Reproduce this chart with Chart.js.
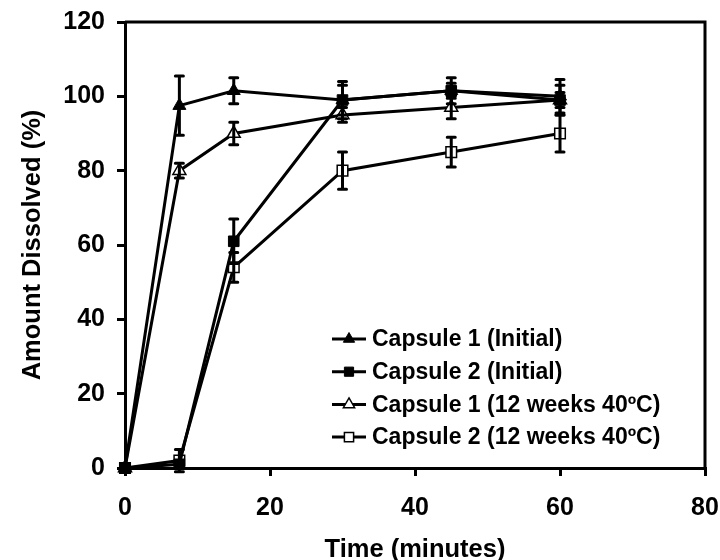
<!DOCTYPE html>
<html>
<head>
<meta charset="utf-8">
<script src="https://cdn.jsdelivr.net/npm/chart.js@4"></script>
<style>
  html, body { margin: 0; padding: 0; background: #fff; }
  #wrap { width: 720px; height: 560px; }
</style>
</head>
<body>
<div id="wrap"><canvas id="chart" width="720" height="560"></canvas></div>
<script>
// 数据
const timePoints = [0, 7.5, 15, 30, 45, 60];
const seriesLabels = ['Capsule 1 (Initial)', 'Capsule 2 (Initial)', 'Capsule 1 (12 weeks 40ºC)', 'Capsule 2 (12 weeks 40ºC)'];
const cap1Initial = [0, 97.5, 101.5, 99, 101.5, 100];
const cap1InitialErr = [0, 8, 3.5, 5, 3.5, 4.5];
const cap2Initial = [0, 1, 61, 99, 101.5, 99];
const cap2InitialErr = [0, 1, 6, 4, 2, 4];
const cap1Aged = [0, 80, 90, 95, 97, 99];
const cap1AgedErr = [0, 2, 3, 2, 3, 2];
const cap2Aged = [0, 2, 54, 80, 85, 90];
const cap2AgedErr = [0, 3, 4, 5, 4, 5];
const xTicks = [0, 20, 40, 60, 80];
const yTicks = [0, 20, 40, 60, 80, 100, 120];

const FONT = '"Liberation Sans", Arial, Helvetica, sans-serif';

function makeSet(label, values, errors, style, filled) {
    return {
        label: label,
        data: timePoints.map((t, i) => ({ x: t, y: values[i] })),
        errors: errors,
        borderColor: '#000',
        borderWidth: 3,
        tension: 0,
        fill: false,
        clip: false,
        pointStyle: style,
        pointRadius: 7.5,
        pointBorderWidth: filled ? 1 : 1.5,
        pointBackgroundColor: filled ? '#000' : '#fff',
        pointBorderColor: '#000'
    };
}

// 误差线
const errorBars = {
    id: 'errorBars',
    afterDatasetsDraw(chart) {
        const ctx = chart.ctx;
        const y = chart.scales.y;
        ctx.save();
        ctx.strokeStyle = '#000';
        ctx.lineWidth = 3;
        ctx.lineCap = 'round';
        chart.data.datasets.forEach((ds, di) => {
            const meta = chart.getDatasetMeta(di);
            meta.data.forEach((pt, i) => {
                const e = ds.errors[i];
                if (!e) return;
                const v = ds.data[i].y;
                const top = y.getPixelForValue(v + e);
                const bot = y.getPixelForValue(v - e);
                ctx.beginPath();
                ctx.moveTo(pt.x, top); ctx.lineTo(pt.x, bot);
                ctx.moveTo(pt.x - 4, top); ctx.lineTo(pt.x + 4, top);
                ctx.moveTo(pt.x - 4, bot); ctx.lineTo(pt.x + 4, bot);
                ctx.stroke();
            });
        });
        ctx.restore();
    }
};

// 上边框和右边框
const frame = {
    id: 'frame',
    afterDraw(chart) {
        const { ctx, chartArea: a } = chart;
        ctx.save();
        ctx.strokeStyle = '#000';
        ctx.lineWidth = 3;
        ctx.beginPath();
        ctx.moveTo(a.left, a.top);
        ctx.lineTo(a.right, a.top);
        ctx.lineTo(a.right, a.bottom);
        ctx.stroke();
        ctx.restore();
    }
};

// 图例（放在绘图区内）
const insideLegend = {
    id: 'insideLegend',
    afterDraw(chart) {
        const { ctx, chartArea: a } = chart;
        const x0 = a.left + 207;
        const y0 = a.top + 317;
        ctx.save();
        chart.data.datasets.forEach((ds, i) => {
            const yy = y0 + i * 32.7;
            ctx.strokeStyle = '#000';
            ctx.lineWidth = 3;
            ctx.beginPath();
            ctx.moveTo(x0, yy); ctx.lineTo(x0 + 34, yy);
            ctx.stroke();
            ctx.fillStyle = ds.pointBackgroundColor;
            ctx.strokeStyle = '#000';
            ctx.lineWidth = ds.pointBorderWidth;
            Chart.helpers.drawPoint(ctx, { pointStyle: ds.pointStyle, radius: 6.5, borderWidth: ds.pointBorderWidth }, x0 + 17, yy);
            ctx.fillStyle = '#000';
            ctx.font = 'bold 23px ' + FONT;
            ctx.textBaseline = 'middle';
            ctx.textAlign = 'left';
            ctx.fillText(ds.label, x0 + 40, yy + 1);
        });
        ctx.restore();
    }
};

const tickFont = { family: FONT, size: 25, weight: 'bold' };

new Chart(document.getElementById('chart'), {
    type: 'line',
    data: {
        datasets: [
            makeSet(seriesLabels[0], cap1Initial, cap1InitialErr, 'triangle', true),
            makeSet(seriesLabels[1], cap2Initial, cap2InitialErr, 'rect', true),
            makeSet(seriesLabels[2], cap1Aged, cap1AgedErr, 'triangle', false),
            makeSet(seriesLabels[3], cap2Aged, cap2AgedErr, 'rect', false)
        ]
    },
    options: {
        responsive: false,
        animation: false,
        devicePixelRatio: 1,
        layout: { padding: { top: 22, right: 0, left: 0, bottom: 0 } },
        plugins: { legend: { display: false }, tooltip: { enabled: false } },
        scales: {
            x: {
                type: 'linear',
                min: 0, max: 80,
                afterFit(s) { s.height = 92; s.paddingRight = 15; s.paddingLeft = 0; },
                afterBuildTicks(s) { s.ticks = xTicks.map(v => ({ value: v })); },
                ticks: { font: tickFont, color: '#000', padding: 17, maxRotation: 0 },
                grid: { drawOnChartArea: false, drawTicks: true, tickLength: 8, color: '#000', lineWidth: 3 },
                border: { display: true, color: '#000', width: 3 },
                title: { display: true, text: 'Time (minutes)', color: '#000', font: { family: FONT, size: 25.5, weight: 'bold', lineHeight: 0.8 }, padding: { top: 0, bottom: 0 } }
            },
            y: {
                min: 0, max: 120,
                afterFit(s) { s.width = 125; s.paddingTop = 0; s.paddingBottom = 0; },
                afterBuildTicks(s) { s.ticks = yTicks.map(v => ({ value: v })); },
                ticks: { font: tickFont, color: '#000', padding: 12 },
                grid: { drawOnChartArea: false, drawTicks: true, tickLength: 8, color: '#000', lineWidth: 3 },
                border: { display: true, color: '#000', width: 3 },
                title: { display: true, text: 'Amount Dissolved (%)', color: '#000', font: { family: FONT, size: 25.5, weight: 'bold', lineHeight: 1 }, padding: { top: 20, bottom: 0 } }
            }
        }
    },
    plugins: [errorBars, frame, insideLegend]
});
</script>
</body>
</html>
